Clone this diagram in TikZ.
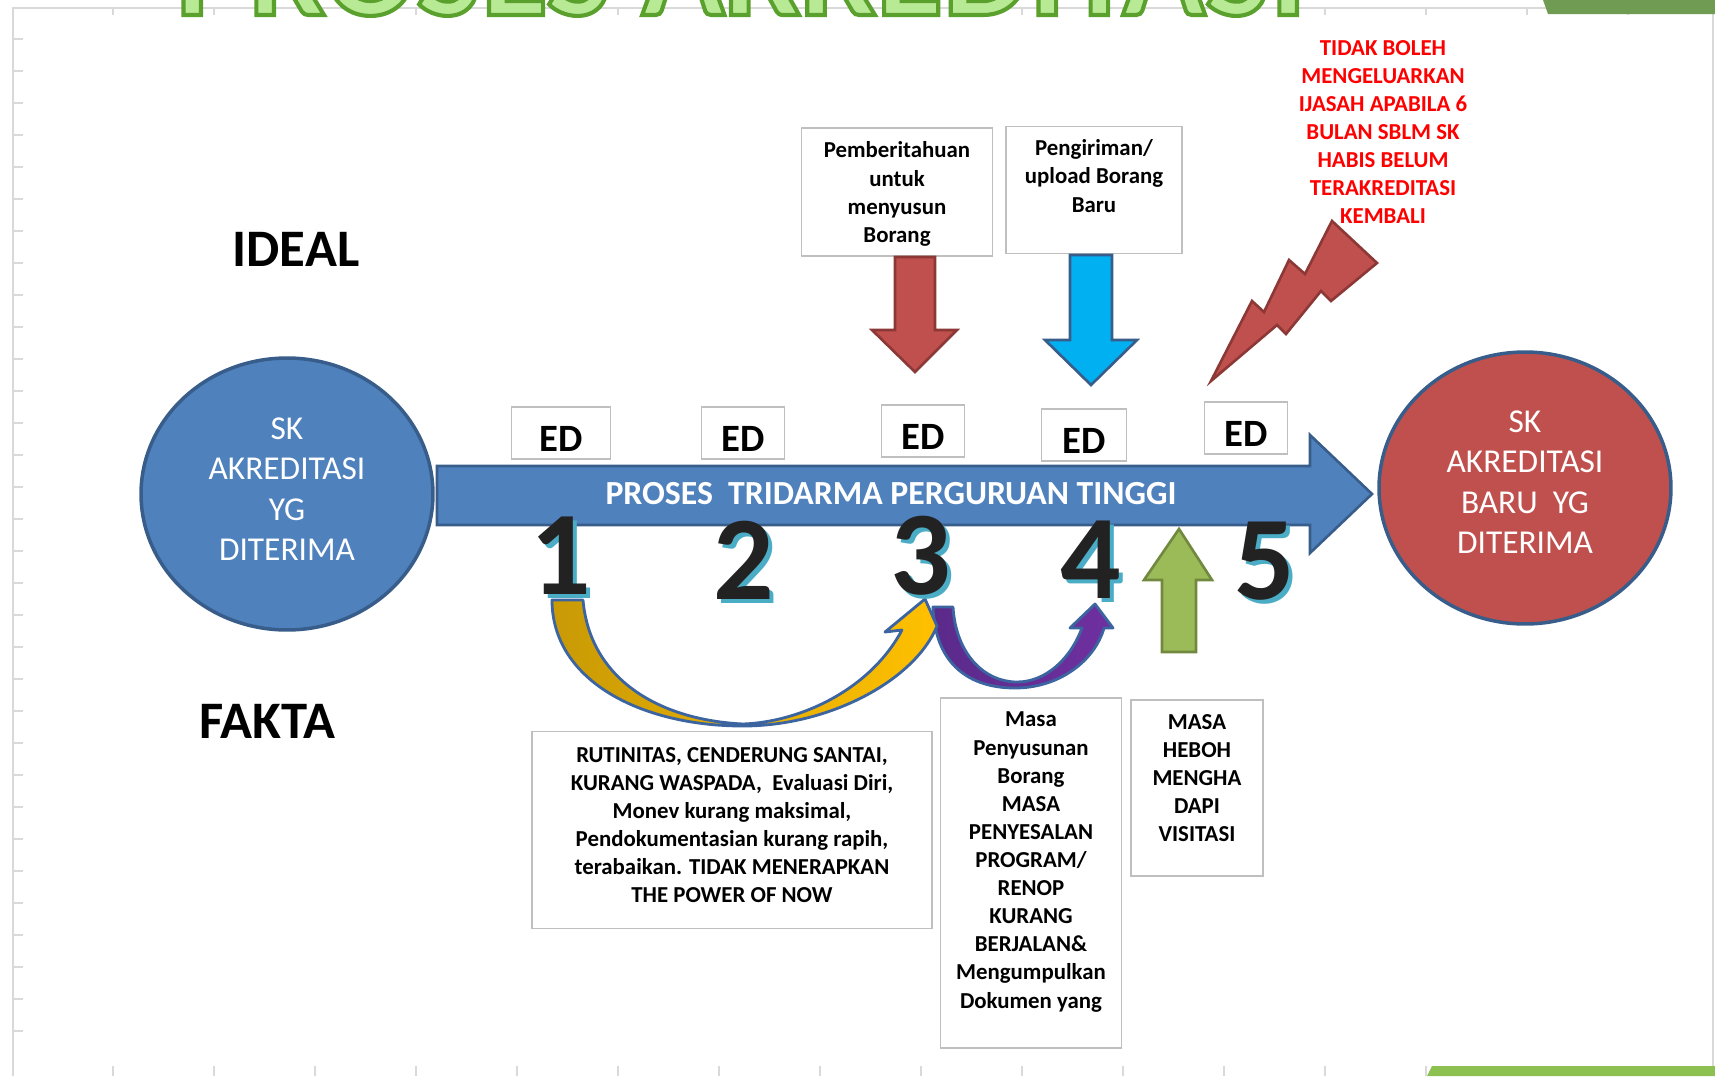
\documentclass[tikz,border=0pt]{standalone}
\usepackage{fontspec}
\usepackage{graphicx}
\setmainfont{Carlito}
\usetikzlibrary{shapes.geometric}

\definecolor{accblue}{HTML}{4F81BD}
\definecolor{accblueline}{HTML}{385D8A}
\definecolor{accred}{HTML}{C0504D}
\definecolor{accredline}{HTML}{8C3836}
\definecolor{skyblue}{HTML}{00B0F0}
\definecolor{leafgreen}{HTML}{9BBB59}
\definecolor{leafline}{HTML}{71893F}
\definecolor{numblack}{HTML}{222222}
\definecolor{numshadow}{HTML}{4BACC6}
\definecolor{gold}{HTML}{FFC000}
\definecolor{darkgold}{HTML}{C99A06}
\definecolor{violetlight}{HTML}{7030A0}
\definecolor{violetdark}{HTML}{5A2A8A}
\definecolor{arcline}{HTML}{3B64A0}
\definecolor{boxline}{HTML}{BFBFBF}
\definecolor{warnred}{HTML}{FF0000}
\definecolor{titlefill}{HTML}{B8E994}
\definecolor{rulergray}{HTML}{D9D9D9}
\definecolor{tabgreen}{HTML}{709B52}
\definecolor{tablight}{HTML}{8CC152}

% title text, filled and stroked in one go
\newcommand\titletext{\resizebox{22.6cm}{!}{\special{pdf:literal direct 0.353 0.627 0.173 RG 0.3 w 2 Tr}\bfseries PROSES AKREDITASI\special{pdf:literal direct 0 Tr}}}
% digit with its light blue shadow
\newcommand\shadowdigit[1]{\rlap{\kern2.3pt\raisebox{-2.3pt}{\textcolor{numshadow}{#1}}}#1}

\begin{document}
\begin{tikzpicture}[x=0.02cm, y=-0.02cm,
    skcircle/.style={ellipse, draw=accblueline, line width=2pt, minimum width=5.84cm, minimum height=5.44cm},
    sktext/.style={text=white, align=center, font=\fontsize{19}{23}\selectfont},
    edbox/.style={draw=boxline, line width=0.8pt, fill=white, minimum height=1.04cm, text height=0.72cm, text depth=0pt, font=\bfseries\fontsize{22}{26}\selectfont},
    infobox/.style={draw=boxline, line width=0.8pt, fill=white},
    infotext/.style={align=center, font=\bfseries\fontsize{13}{16}\selectfont},
    bignum/.style={font=\bfseries\fontsize{68}{70}\selectfont, text=numblack},
    blockarrow/.style={line width=1.5pt, line join=miter},
    arcarrow/.style={draw=arcline, line width=1.6pt, line join=round},
    bigword/.style={font=\bfseries\fontsize{30}{36}\selectfont}]
  \useasboundingbox (0,0) rectangle (1715,1076);
  \clip (0,0) rectangle (1715,1076);
  % Ruler
  \draw[rulergray, line width=0.8pt] (13,1076) -- (13,8) -- (1715,8);
  \draw[rulergray, line width=0.8pt] (1713,14) -- (1713,1076);
  \foreach \y in {39,71,...,1060} \draw[rulergray, line width=1pt] (13,\y) -- (23,\y);
  \foreach \x in {113,214,...,1710} {
    \draw[rulergray, line width=0.6pt] (\x,8) -- (\x,15);
    \draw[rulergray, line width=0.6pt] (\x,1066) -- (\x,1076);
  }
  \fill[tabgreen] (1543,0) -- (1715,0) -- (1715,14) -- (1548,14) -- cycle;
  \fill[tablight] (1432,1066) -- (1715,1066) -- (1715,1076) -- (1427,1076) -- cycle;
  % Title (cut off at the top)
  \node[anchor=base, inner sep=0pt, text=titlefill] (title) at (741,15) {\titletext};
  % Side words
  \node[bigword] (ideal) at (296,249) {IDEAL};
  \node[bigword] (fakta) at (267,721) {FAKTA};
  % SK circles
  \node[skcircle, fill=accblue] (skold) at (287,494) {};
  \node[sktext] (skoldtxt) at (287,489) {SK\\AKREDITASI\\YG\\DITERIMA};
  \node[skcircle, fill=accred] (sknew) at (1525,488) {};
  \node[sktext] (sknewtxt) at (1525,482) {SK\\AKREDITASI\\BARU\ \ YG\\DITERIMA};
  % Main process arrow
  \draw[blockarrow, draw=accblueline, fill=accblue] (437,466) -- (1310,466) -- (1310,435) -- (1372,494) -- (1310,553) -- (1310,525) -- (437,525) -- cycle;
  \node[font=\bfseries\fontsize{19.2}{22}\selectfont, text=white] (track) at (891,494) {PROSES\ \ TRIDARMA PERGURUAN TINGGI};
  % ED boxes
  \foreach \x/\y/\w [count=\i] in {561/433/99, 743/433/83, 923/431/83, 1084/435/85, 1246/428/83}
    \node[edbox, minimum width=\w*0.02cm] (ed\i) at (\x,\y) {ED};
  % Ideal notices
  \node[infobox, minimum width=3.82cm, minimum height=2.56cm] (pemb) at (897,192) {};
  \node[infotext] (pembtxt) at (897,194) {Pemberitahuan\\untuk\\menyusun\\Borang};
  \node[infobox, minimum width=3.52cm, minimum height=2.54cm] (kirim) at (1094,190) {};
  \node[infotext] (kirimtxt) at (1094,176) {Pengiriman/\\upload Borang\\Baru};
  \draw[blockarrow, draw=accredline, fill=accred] (895,257) -- (935,257) -- (935,330) -- (957,330) -- (915,372) -- (872,330) -- (895,330) -- cycle;
  \draw[blockarrow, draw=accblueline, fill=skyblue] (1070,255) -- (1112,255) -- (1112,340) -- (1137,340) -- (1091,385) -- (1045,340) -- (1070,340) -- cycle;
  % Warning and lightning
  \node[infotext, text=warnred] (warn) at (1383,132) {TIDAK BOLEH\\MENGELUARKAN\\IJASAH APABILA 6\\BULAN SBLM SK\\HABIS BELUM\\TERAKREDITASI\\KEMBALI};
  \draw[blockarrow, draw=accredline, fill=accred] (1211,381) -- (1252,301) -- (1264,312) -- (1289,260) -- (1305,274) -- (1332,221) -- (1377,263) -- (1331,301) -- (1321,291) -- (1286,334) -- (1277,325) -- cycle;
  % Visitation arrow
  \draw[blockarrow, draw=leafline, fill=leafgreen] (1162,652) -- (1162,580) -- (1144,580) -- (1179,529) -- (1212,580) -- (1196,580) -- (1196,652) -- cycle;
  % Curved arrows
  \draw[arcarrow, left color=violetdark, right color=violetlight] (933,607) .. controls (935,665) and (970,688) .. (1015,688) .. controls (1060,688) and (1095,660) .. (1104,628) -- (1113,628) -- (1095,604) -- (1070,628) -- (1082,628) .. controls (1070,660) and (1045,682) .. (1017,682) .. controls (985,682) and (956,655) .. (953,607) -- cycle;
  \draw[arcarrow, left color=darkgold, right color=gold] (552,600) .. controls (552,680) and (640,726) .. (743,726) .. controls (830,726) and (915,680) .. (937,626) -- (925,599) -- (885,632) -- (902,630) .. controls (870,690) and (800,722) .. (743,724) .. controls (660,720) and (590,680) .. (583,600) -- cycle;
  % Numbers
  \foreach \x/\y [count=\i] in {561/558, 744/562, 921/558, 1091/562, 1265/563}
    \node[bignum] (n\i) at (\x,\y) {\shadowdigit{\i}};
  % Fakta boxes
  \node[infobox, minimum width=8cm, minimum height=3.94cm] (rutin) at (732,830) {};
  \node[infotext] (rutintxt) at (732,825) {RUTINITAS, CENDERUNG SANTAI,\\KURANG WASPADA,\ \ Evaluasi Diri,\\Monev kurang maksimal,\\Pendokumentasian kurang rapih,\\terabaikan. TIDAK MENERAPKAN\\THE POWER OF NOW};
  \node[infobox, minimum width=3.62cm, minimum height=7cm] (susun) at (1031,873) {};
  \node[infotext] (susuntxt) at (1031,862) {Masa\\Penyusunan\\Borang\\MASA\\PENYESALAN\\PROGRAM/\\RENOP\\KURANG\\BERJALAN\&\\Mengumpulkan\\Dokumen yang};
  \node[infobox, minimum width=2.64cm, minimum height=3.52cm] (heboh) at (1197,788) {};
  \node[infotext] (hebohtxt) at (1197,778) {MASA\\HEBOH\\MENGHA\\DAPI\\VISITASI};
\end{tikzpicture}
\end{document}
